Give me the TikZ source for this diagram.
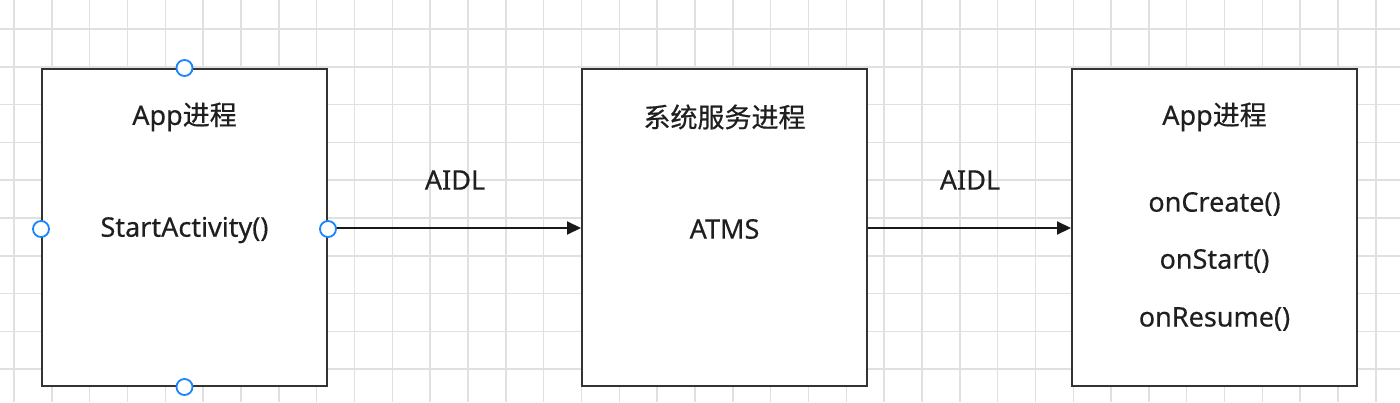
\documentclass[tikz,border=0pt]{standalone}
\usepackage{fontspec}
\setmainfont{Noto Sans}[FakeBold=0.4]
\newfontfamily\cjk{Noto Sans CJK SC}[FakeBold=0.6]
\usetikzlibrary{arrows.meta}
\definecolor{gridc}{HTML}{E0E0E0}
\definecolor{handle}{HTML}{1A84FF}
\definecolor{boxc}{HTML}{333333}
\begin{document}
\begin{tikzpicture}[x=1pt,y=-1pt,
  proc/.style={draw=boxc,line width=2pt,fill=white,minimum width=285pt,minimum height=317pt,inner sep=0pt},
  lbl/.style={font=\fontsize{27}{32}\selectfont,text=black!88,inner sep=0pt},
  handlept/.style={circle,draw=handle,line width=1.8pt,fill=white,minimum size=16pt,inner sep=0pt},
  conn/.style={line width=2pt,black!90,-{Triangle[length=14pt,width=13pt]}}]
\useasboundingbox (0,0) rectangle (1400,402);
\fill[white] (0,0) rectangle (1400,402);
\foreach \k in {0,...,36} \draw[gridc,line width=1.5pt] ({14+37.83*\k},0) -- ({14+37.83*\k},402);
\foreach \k in {0,...,9} \draw[gridc,line width=1.5pt] (0,{29+37.8*\k}) -- (1400,{29+37.8*\k});
\node[proc] (a) at (184.5,227.5) {};
\node[proc] (b) at (724.5,227.5) {};
\node[proc] (c) at (1214.5,227.5) {};
\node[lbl] (a1) at (184.5,117) {App{\cjk 进程}};
\node[lbl] (a2) at (184.5,230) {StartActivity()};
\node[lbl] (b1) at (724.5,117) {\cjk 系统服务进程};
\node[lbl] (b2) at (724.5,229) {ATMS};
\node[lbl] (c1) at (1214.5,117) {App{\cjk 进程}};
\node[lbl] (c2) at (1214.5,204) {onCreate()};
\node[lbl] (c3) at (1214.5,261) {onStart()};
\node[lbl] (c4) at (1214.5,319) {onResume()};
\node[lbl] (l1) at (455,180) {AIDL};
\node[lbl] (l2) at (970,180) {AIDL};
\coordinate (ae) at (a.east |- 0,228);
\coordinate (bw) at (b.west |- 0,228);
\coordinate (be) at (b.east |- 0,228);
\coordinate (cw) at (c.west |- 0,228);
\draw[conn] (ae) -- (bw);
\draw[conn] (be) -- (cw);
\node[handlept] (h1) at (a.north) {};
\node[handlept] (h2) at (a.south) {};
\node[handlept] (h3) at (a.west |- 0,229) {};
\node[handlept] (h4) at (a.east |- 0,229) {};
\end{tikzpicture}
\end{document}
